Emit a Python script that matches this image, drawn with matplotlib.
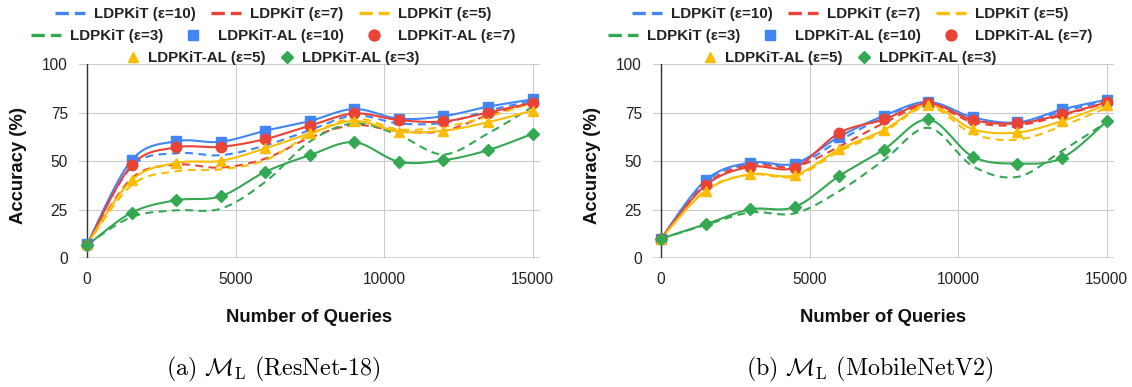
import numpy as np
import matplotlib
matplotlib.use("Agg")
import matplotlib.pyplot as plt
from matplotlib.lines import Line2D

plt.rcParams["font.family"] = ["Liberation Sans", "DejaVu Sans"]
plt.rcParams["mathtext.fontset"] = "cm"

# ---- data ----
queries = [0, 1500, 3000, 4500, 6000, 7500, 9000, 10500, 12000, 13500, 15000]
eps_labels = ["10", "7", "5", "3"]

# (a) ResNet-18
resnet_kit = {
    "10": [7, 47, 54, 53, 58, 65.9, 73.5, 69.4, 69.7, 76, 81],
    "7": [7, 41, 48.1, 46.6, 51.2, 62, 68.5, 65.4, 65.4, 73.7, 80],
    "5": [7, 37.5, 44.7, 45.7, 50.4, 63.5, 72, 66.3, 67.6, 72.8, 80],
    "3": [7, 21.1, 24.6, 25.4, 39.2, 60, 69.4, 63.3, 53.4, 64.2, 78],
}
resnet_al = {
    "10": [7, 50.4, 60.2, 59.9, 65.6, 70.6, 76.8, 71.8, 73.1, 78.0, 81.8],
    "7": [6.5, 47.8, 57.0, 57.3, 61.3, 68.2, 74.5, 71.1, 70.4, 75.0, 80.0],
    "5": [7, 40.1, 49.0, 50.1, 56.5, 64.2, 70.7, 65.2, 65.6, 70.0, 76.0],
    "3": [6.5, 23.4, 29.8, 31.8, 44.4, 53.0, 59.7, 49.6, 50.4, 55.6, 64.0],
}

# (b) MobileNetV2
mobile_kit = {
    "10": [10, 39.5, 48.5, 47.5, 60.5, 72.5, 80, 71.5, 69.5, 75.5, 81],
    "7": [10, 38, 48, 47, 57.5, 69.5, 79, 70, 68.5, 73.5, 80],
    "5": [10, 35, 43, 42, 55, 65, 78, 64, 61, 68, 77.5],
    "3": [10, 17, 23.5, 23, 34.5, 50.4, 67.1, 47.3, 41.8, 55.2, 70],
}
mobile_al = {
    "10": [10, 40.1, 49.2, 48.7, 62.5, 73.3, 80.5, 72.5, 69.9, 76.6, 81.6],
    "7": [10, 37.5, 47.0, 46.6, 64.5, 71.4, 79.7, 71.1, 69.4, 74.0, 80.2],
    "5": [10, 34.6, 43.2, 42.7, 56.0, 65.9, 78.8, 66.4, 64.7, 70.6, 79.0],
    "3": [10, 17.4, 25.1, 26.3, 42.3, 55.9, 71.4, 52.2, 48.7, 51.6, 70.4],
}

colors = {"10": "#4285F4", "7": "#EA4335", "5": "#FBBC04", "3": "#34A853"}
markers = {"10": "s", "7": "o", "5": "^", "3": "D"}
msizes = {"10": 6.5, "7": 7.5, "5": 7.5, "3": 6.0}


def smooth(x, y, n=20):
    # catmull-rom curve through the points (chart smoothing)
    x = np.asarray(x, float)
    y = np.asarray(y, float)
    px = np.concatenate([[x[0]], x, [x[-1]]])
    py = np.concatenate([[y[0]], y, [y[-1]]])
    t = np.linspace(0, 1, n, endpoint=False)
    xs, ys = [], []
    for i in range(1, len(px) - 2):
        for arr, out in ((px, xs), (py, ys)):
            p0, p1, p2, p3 = arr[i - 1], arr[i], arr[i + 1], arr[i + 2]
            out.append(0.5 * (2 * p1 + (-p0 + p2) * t
                              + (2 * p0 - 5 * p1 + 4 * p2 - p3) * t ** 2
                              + (-p0 + 3 * p1 - 3 * p2 + p3) * t ** 3))
    xs.append([x[-1]])
    ys.append([y[-1]])
    return np.concatenate(xs), np.concatenate(ys)


def draw_panel(ax, kit, al):
    for e in eps_labels:
        sx, sy = smooth(queries, kit[e])
        ax.plot(sx, sy, color=colors[e], lw=1.5, dashes=(3.8, 2.6), zorder=3, clip_on=False)
    for e in eps_labels:
        sx, sy = smooth(queries, al[e])
        ax.plot(sx, sy, color=colors[e], lw=1.5, zorder=4, clip_on=False)
        ax.plot(queries, al[e], ls="none", marker=markers[e], ms=msizes[e],
                color=colors[e], mec=colors[e], zorder=5, clip_on=False)
    ax.set_xlim(-270, 15250)
    ax.set_ylim(0, 100)
    ax.set_xticks([0, 5000, 10000, 15000])
    ax.set_yticks([0, 25, 50, 75, 100])
    ax.grid(True, color="#cccccc", lw=0.8)
    ax.set_axisbelow(True)
    ax.axhline(0, color="#333333", lw=1.0, zorder=2)
    ax.axvline(0, color="#333333", lw=1.0, zorder=2)
    for s in ax.spines.values():
        s.set_visible(False)
    ax.tick_params(length=0, labelsize=11.2, labelcolor="#222222")
    ax.tick_params(axis="y", pad=8)
    ax.tick_params(axis="x", pad=10)


def add_legend(fig, xc):
    kit_h = [Line2D([], [], color=colors[e], lw=2.4, dashes=(4.0, 1.8)) for e in eps_labels]
    al_h = [Line2D([], [], ls="none", marker=markers[e], ms=msizes[e] * 1.05,
                   color=colors[e]) for e in eps_labels]
    kit_l = [f"LDPKiT (\u03b5={e})" for e in eps_labels]
    al_l = [f"LDPKiT-AL (\u03b5={e})" for e in eps_labels]
    rows = [
        (kit_h[:3], kit_l[:3], 0.9638),
        ([kit_h[3]] + al_h[:2], [kit_l[3]] + al_l[:2], 0.9070),
        (al_h[2:], al_l[2:], 0.8500),
    ]
    for i, (h, l, y) in enumerate(rows):
        leg = fig.legend(h, l, loc="center", bbox_to_anchor=(xc, y), ncol=len(h),
                         frameon=False, prop={"weight": "bold", "size": 10.9},
                         handlelength=2.0 if i < 2 else 0.8, handletextpad=0.6,
                         columnspacing=1.0, borderaxespad=0, borderpad=0)
        for t in leg.get_texts():
            t.set_color("#222222")


fig = plt.figure(figsize=(11.32, 3.87), dpi=100)
ax1 = fig.add_axes([0.0698, 0.3333, 0.4072, 0.5013])
ax2 = fig.add_axes([0.5769, 0.3333, 0.4072, 0.5013])

draw_panel(ax1, resnet_kit, resnet_al)
draw_panel(ax2, mobile_kit, mobile_al)

add_legend(fig, 273 / 1132)
add_legend(fig, 850 / 1132)

for ax, xc in ((ax1, 309.5), (ax2, 883.5)):
    fig.text(xc / 1132, 1 - 318 / 387, "Number of Queries", ha="center", va="center",
             fontsize=13.3, fontweight="bold", color="#111111")
for xc in (19, 593):
    fig.text(xc / 1132, 1 - 166 / 387, "Accuracy (%)", rotation=90, ha="center",
             va="center", fontsize=13.3, fontweight="bold", color="#111111")

fig.text(273 / 1132, 1 - 369 / 387, r"(a) $\mathcal{M}_{\mathrm{L}}$ (ResNet-18)",
         family="cmr10", ha="center", va="center", fontsize=17.3)
fig.text(870 / 1132, 1 - 369 / 387, r"(b) $\mathcal{M}_{\mathrm{L}}$ (MobileNetV2)",
         family="cmr10", ha="center", va="center", fontsize=17.3)

fig.savefig("out.png", dpi=100)
